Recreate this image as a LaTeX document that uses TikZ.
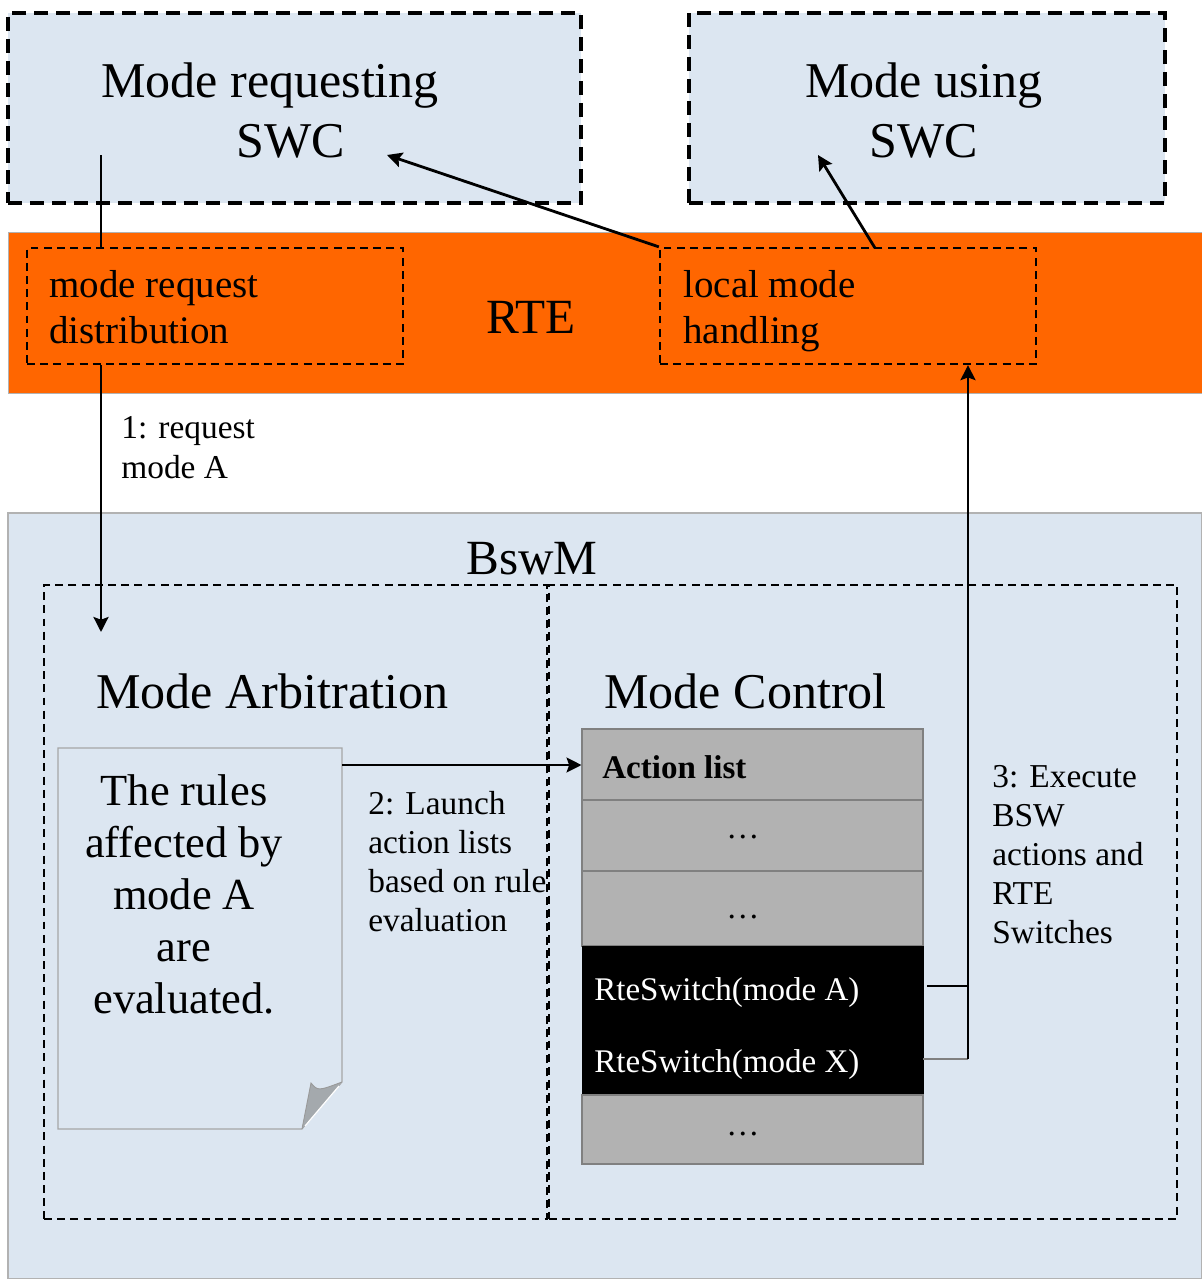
\documentclass[tikz,border=0pt]{standalone}
\usepackage{fontspec}
\setmainfont{Liberation Serif}
\usetikzlibrary{arrows.meta,fit,calc}
\definecolor{lb}{RGB}{220,230,241}
\definecolor{rteor}{RGB}{255,102,0}
\definecolor{tgray}{RGB}{178,178,178}
\definecolor{bgray}{RGB}{128,128,128}
\newcommand\mlines[2]{\begin{tabular}[t]{@{}#1@{}}#2\end{tabular}}
\tikzset{
 outerdash/.style={draw=black, line width=2pt, dash pattern=on 8pt off 4.5pt, fill=lb, inner sep=0pt},
 innerdash/.style={draw=black, line width=1.3pt, dash pattern=on 4.5pt off 3pt, inner sep=0pt},
 txt/.style={inner sep=0pt, anchor=base west},
 ctxt/.style={inner sep=0pt, anchor=base},
 arr/.style={line width=1.6pt, -{Stealth[length=8.5pt,width=8.5pt,inset=1.5pt]}},
 cell/.style={draw=bgray, line width=0.6pt, fill=tgray, inner sep=0pt},
 big/.style={font=\fontsize{28.5}{34.7}\selectfont},
 mid/.style={font=\fontsize{22.2}{26.7}\selectfont},
 cellfont/.style={font=\fontsize{18.8}{22}\selectfont},
}
\begin{document}
\begin{tikzpicture}[x=0.02cm,y=-0.02cm]
\useasboundingbox[fill=white] (0,0) rectangle (1202,1279);

% main areas
\node[fit={(8,513)(1202,1279)}, inner sep=0pt, fill=lb, draw=gray!60, line width=0.6pt] (bswm) {};
\node[fit={(8,232)(1202,393)}, inner sep=0pt, fill=rteor, draw=gray!60, line width=0.5pt] (rte) {};
\node[outerdash, fit={(8,13)(581,203)}] (req) {};
\node[outerdash, fit={(689,13)(1165,203)}] (use) {};
\node[innerdash, fit={(27,248)(403,364)}] (mrd) {};
\node[innerdash, fit={(660,248)(1036,364)}] (lmh) {};
\node[innerdash, fit={(44,585)(547,1219)}] (arb) {};
\node[innerdash, fit={(549,585)(1177,1219)}] (ctl) {};

% texts of areas
\node[ctxt, big] (reqt) at (270,97) {\mlines{c}{Mode requesting\\\hspace*{24pt}SWC}};
\node[ctxt, big] (uset) at (924,97) {\mlines{c}{Mode using\\SWC}};
\node[ctxt, font=\fontsize{28}{33}\selectfont] (rtet) at (531,333) {RTE};
\node[txt, mid] (mrdt) at (49,297) {\mlines{l}{mode request\\distribution}};
\node[txt, mid] (lmht) at (683,297) {\mlines{l}{local mode\\handling}};
\node[ctxt, font=\fontsize{28}{33}\selectfont] (bswmt) at (532,574) {BswM};
\node[txt, big] (arbt) at (96,708) {Mode Arbitration};
\node[txt, big] (ctlt) at (604,708) {Mode Control};

% document shape
\draw[fill=lb, draw=gray!70, line width=0.6pt] (58,748) -- (342,748) -- (342,1082) -- (302,1129) -- (58,1129) -- cycle;
\fill[gray!60!lb] (302,1129) -- (311,1083) .. controls (318,1091) .. (342,1082) -- cycle;
\draw[gray!80, line width=0.5pt] (302,1129) -- (311,1083) .. controls (318,1091) .. (342,1082);
\draw[white, line width=0.7pt] (305,1126) -- (339,1086);
\node[ctxt, font=\fontsize{25.3}{29.6}\selectfont] (doct) at (184,805) {\mlines{c}{The rules\\affected by\\mode A\\are\\evaluated.}};
\coordinate (docout) at (342,765);

% action list table
\node[cell, fit={(582,729)(923,800)}] (al) {};
\node[cell, fit={(582,800)(923,871)}] (r1) {};
\node[cell, fit={(582,871)(923,946)}] (r2) {};
\node[fill=black, draw=black, inner sep=0pt, fit={(582,946)(923,1095)}] (blk) {};
\node[cell, fit={(582,1095)(923,1164)}] (r3) {};
\node[txt, font=\fontsize{18.8}{22}\selectfont\bfseries] (alt) at (602,778) {Action list};
\node[ctxt, cellfont] (d1) at (743,838) {…};
\node[ctxt, cellfont] (d2) at (743,918) {…};
\node[ctxt, cellfont] (d3) at (743,1135) {…};
\node[txt, text=white, cellfont] (swA) at (594,1000) {RteSwitch(mode A)};
\node[txt, text=white, cellfont] (swX) at (594,1072) {RteSwitch(mode X)};

% labels
\node[txt, font=\fontsize{19}{22.8}\selectfont] (l1) at (121,438) {\mlines{l}{1: request\\mode A}};
\node[txt, font=\fontsize{19}{22.2}\selectfont] (l2) at (368,814) {\mlines{l}{2: Launch\\action lists\\based on rule\\evaluation}};
\node[txt, font=\fontsize{19}{22.2}\selectfont] (l3) at (992,787) {\mlines{l}{3: Execute\\BSW\\actions and\\RTE\\Switches}};

% connectors
\coordinate (reqin) at (101,155);
\coordinate (arbin) at (101,632);
\draw[line width=1.6pt] (reqin) -- (reqin |- mrd.north);
\draw[arr] (reqin |- mrd.south) -- (arbin);
\coordinate (reqtip) at (387,155);
\draw[arr] (lmh.north west) -- (reqtip);
\coordinate (lmhtop) at (875,248);
\coordinate (usetip) at (818,155);
\draw[arr] (lmhtop) -- (usetip);
\draw[arr, line width=1.3pt] (docout) -- (al.west |- docout);
\coordinate (jA) at (968,986);
\coordinate (jX) at (968,1059);
\draw[line width=1.6pt] ($(blk.east |- jA)+(4,0)$) -- (jA);
\draw[bgray, line width=0.6pt] (blk.east |- jX) -- (jX);
\draw[arr] (jX) -- (lmh.south -| jX);
\end{tikzpicture}
\end{document}
